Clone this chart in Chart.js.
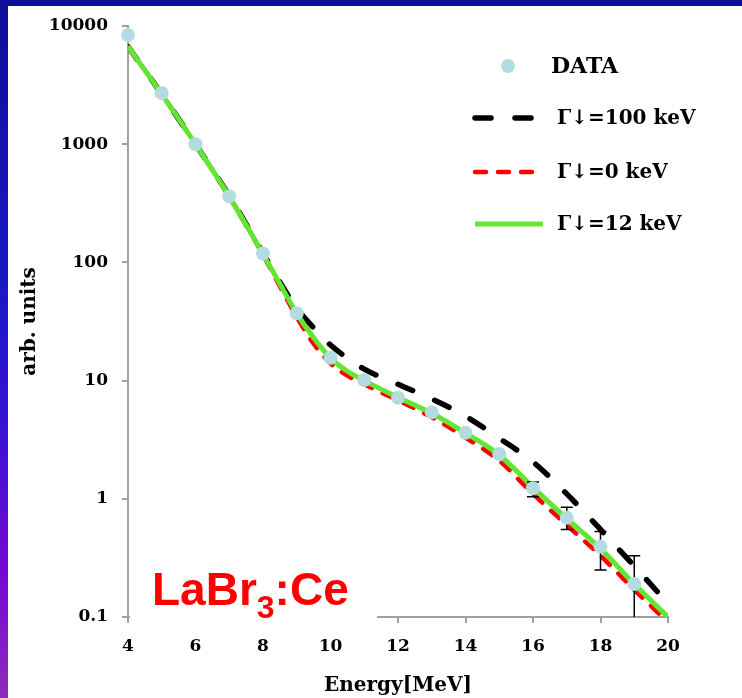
<!DOCTYPE html>
<html>
<head>
<meta charset="utf-8">
<script src="https://cdn.jsdelivr.net/npm/chart.js@4.4.0/dist/chart.umd.min.js"></script>
<style>
  html, body { margin: 0; padding: 0; }
  body { width: 742px; height: 698px; background: #0e0e96; position: relative; overflow: hidden; }
  #side { position: absolute; left: 0; top: 6px; width: 8px; height: 692px;
    background: linear-gradient(to bottom, #0e0e9a 0%, #1818c4 40%, #3a12d2 62%, #7808d2 82%, #8a2cbc 100%); }
  #wrap { position: absolute; left: 8px; top: 6px; width: 734px; height: 692px; background: #fff; }
</style>
</head>
<body>
<div id="side"></div>
<div id="wrap"><canvas id="c" width="734" height="692"></canvas></div>
<script>
// measured points
const dataE   = [4, 5, 6, 7, 8, 9, 10, 11, 12, 13, 14, 15, 16, 17, 18, 19];
const dataY   = [8390, 2710, 1000, 362, 119, 37.1, 15.6, 10.1, 7.17, 5.39, 3.62, 2.39, 1.23, 0.69, 0.394, 0.19];
const errLow  = [null, null, null, null, null, null, null, null, null, null, null, null, 1.04, 0.55, 0.25, 0.08];
const errHigh = [null, null, null, null, null, null, null, null, null, null, null, null, 1.39, 0.85, 0.53, 0.33];

// model curves
const curveE  = [4, 5, 6, 7, 8, 8.5, 9, 9.5, 10, 10.5, 11, 12, 13, 14, 15, 16, 17, 18, 19, 20];
const g100    = [6700, 2650, 1000, 365, 120, 68, 41, 28, 20, 15.5, 12.5, 9.3, 7.0, 5.0, 3.25, 2.05, 1.1, 0.55, 0.27, 0.13];
const g0      = [6700, 2650, 1000, 360, 116, 63, 34.5, 20.5, 14, 11, 9.3, 6.8, 4.9, 3.3, 2.1, 1.1, 0.6, 0.33, 0.17, 0.09];
const g12     = [6700, 2650, 1000, 360, 118, 66, 37, 23, 15.5, 12, 10, 7.2, 5.3, 3.6, 2.35, 1.25, 0.68, 0.38, 0.19, 0.1];

const yTicks  = [0.1, 1, 10, 100, 1000, 10000];
const yTickLabels = ['0.1', '1', '10', '100', '1000', '10000'];
const labels  = ['DATA', 'Γ↓=100 keV', 'Γ↓=0 keV', 'Γ↓=12 keV'];

const serif = 'DejaVu Serif';
const pts = (xs, ys) => xs.map((x, i) => ({ x: x, y: ys[i] }));

// error bars, drawn just before the markers so they sit underneath
const errorBars = {
  id: 'errorBars',
  beforeDatasetDraw(chart, args) {
    if (args.index !== 0) return;
    const { ctx, scales: { x, y }, chartArea } = chart;
    ctx.save();
    ctx.beginPath();
    ctx.rect(chartArea.left, chartArea.top, chartArea.right - chartArea.left, chartArea.bottom - chartArea.top);
    ctx.clip();
    ctx.strokeStyle = '#000';
    ctx.lineWidth = 1.5;
    dataE.forEach((e, i) => {
      if (errLow[i] == null) return;
      const px = x.getPixelForValue(e);
      const lo = y.getPixelForValue(errLow[i]);
      const hi = y.getPixelForValue(errHigh[i]);
      ctx.beginPath();
      ctx.moveTo(px, lo); ctx.lineTo(px, hi);
      ctx.moveTo(px - 6, hi); ctx.lineTo(px + 6, hi);
      ctx.moveTo(px - 6, lo); ctx.lineTo(px + 6, lo);
      ctx.stroke();
    });
    ctx.restore();
  }
};

// white box with the crystal name over the lower left corner
const crystalLabel = {
  id: 'crystalLabel',
  afterDraw(chart) {
    const ctx = chart.ctx;
    ctx.save();
    ctx.fillStyle = '#fff';
    ctx.fillRect(122, 545, 247, 74);
    ctx.fillStyle = '#ff0000';
    ctx.textBaseline = 'alphabetic';
    ctx.textAlign = 'left';
    let x = 144;
    ctx.font = 'bold 46px "Liberation Sans", Arial, sans-serif';
    ctx.fillText('LaBr', x, 599);
    x += ctx.measureText('LaBr').width;
    ctx.font = 'bold 32px "Liberation Sans", Arial, sans-serif';
    ctx.fillText('3', x, 612);
    x += ctx.measureText('3').width;
    ctx.font = 'bold 46px "Liberation Sans", Arial, sans-serif';
    ctx.fillText(':Ce', x, 599);
    ctx.restore();
  }
};

// legend in the upper right, as on the slide
const sideLegend = {
  id: 'sideLegend',
  afterDraw(chart) {
    const ctx = chart.ctx;
    const ds = chart.data.datasets;
    const rows = [60, 112, 166, 218];
    ctx.save();
    ctx.fillStyle = '#000';
    ctx.textBaseline = 'middle';
    ds.forEach((d, i) => {
      const yy = rows[i];
      if (i === 0) {
        ctx.beginPath();
        ctx.arc(500, yy, 7, 0, Math.PI * 2);
        ctx.fillStyle = d.pointBackgroundColor;
        ctx.fill();
        ctx.fillStyle = '#000';
        ctx.font = 'bold 22px ' + serif;
        ctx.fillText(d.label, 543, yy + 1);
      } else {
        ctx.beginPath();
        ctx.strokeStyle = d.borderColor;
        ctx.lineWidth = d.borderWidth;
        ctx.lineCap = d.borderCapStyle || 'butt';
        ctx.setLineDash(d.borderDash || []);
        ctx.moveTo(467, yy);
        ctx.lineTo(i === 3 ? 535 : 527, yy);
        ctx.stroke();
        ctx.setLineDash([]);
        ctx.font = 'bold 20px ' + serif;
        ctx.fillText(d.label, 549, yy + 1);
      }
    });
    ctx.restore();
  }
};

new Chart(document.getElementById('c'), {
  type: 'line',
  data: {
    datasets: [
      {
        label: labels[0], data: pts(dataE, dataY), showLine: false, clip: false,
        pointRadius: 7, pointBackgroundColor: '#b3dce1', pointBorderWidth: 0, order: 0
      },
      {
        label: labels[1], data: pts(curveE, g100), borderColor: '#000', borderWidth: 5.5,
        borderDash: [16, 24], borderCapStyle: 'round', pointRadius: 0,
        cubicInterpolationMode: 'monotone', order: 3
      },
      {
        label: labels[2], data: pts(curveE, g0), borderColor: '#ff0000', borderWidth: 4.5,
        borderDash: [11, 12], borderCapStyle: 'round', pointRadius: 0,
        cubicInterpolationMode: 'monotone', order: 2
      },
      {
        label: labels[3], data: pts(curveE, g12), borderColor: '#62e633', borderWidth: 5,
        pointRadius: 0, cubicInterpolationMode: 'monotone', order: 1
      }
    ]
  },
  options: {
    responsive: false,
    animation: false,
    devicePixelRatio: 1,
    layout: { autoPadding: false, padding: { top: 20, right: 74, left: 0, bottom: 0 } },
    plugins: { legend: { display: false }, tooltip: { enabled: false } },
    scales: {
      x: {
        type: 'linear', min: 4, max: 20,
        afterFit: s => { s.height = 81; s.paddingLeft = 0; s.paddingRight = 0; },
        ticks: { stepSize: 2, color: '#000', padding: 13, font: { family: serif, weight: 'bold', size: 17 } },
        grid: { drawOnChartArea: false, tickLength: 6, color: '#a0a0a0', lineWidth: 2 },
        border: { color: '#a0a0a0', width: 2 },
        title: { display: true, text: 'Energy[MeV]', color: '#000',
          font: { family: serif, weight: 'bold', size: 20 }, padding: { top: 0, bottom: 0 } }
      },
      y: {
        type: 'logarithmic', min: 0.1, max: 10000,
        afterFit: s => { s.width = 120; s.paddingTop = 0; s.paddingBottom = 0; },
        afterBuildTicks: s => { s.ticks = yTicks.map(v => ({ value: v })); },
        ticks: { color: '#000', padding: 14, font: { family: serif, weight: 'bold', size: 17 },
          callback: v => yTickLabels[yTicks.indexOf(v)] },
        grid: { drawOnChartArea: false, tickLength: 6, color: '#a0a0a0', lineWidth: 2 },
        border: { color: '#a0a0a0', width: 2 },
        title: { display: true, text: 'arb. units', color: '#000',
          font: { family: serif, weight: 'bold', size: 20 }, padding: { top: 10, bottom: 0 } }
      }
    }
  },
  plugins: [errorBars, crystalLabel, sideLegend]
});
</script>
</body>
</html>
